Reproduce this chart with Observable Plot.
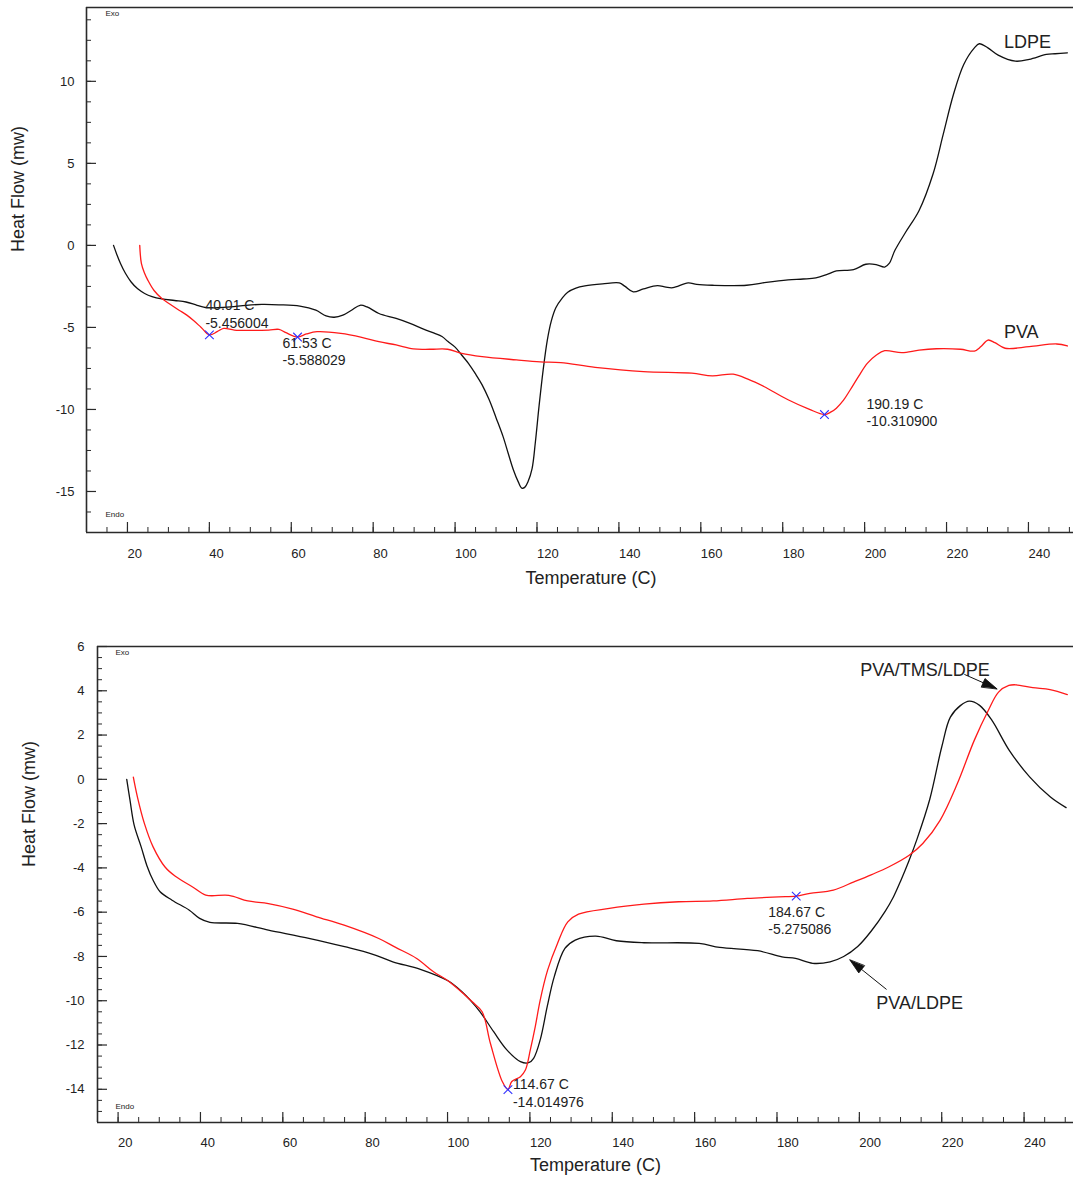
<!DOCTYPE html>
<html>
<head>
<meta charset="utf-8">
<script src="https://cdn.jsdelivr.net/npm/d3@7"></script>
<script src="https://cdn.jsdelivr.net/npm/@observablehq/plot@0.6"></script>
<style>
html, body { margin: 0; padding: 0; background: #fff; }
#top, #bottom { width: 1073px; }
svg { display: block; }
</style>
</head>
<body>
<div id="top"></div>
<div id="bottom"></div>
<script>
// ---------- Top panel data ----------
const ldpeTemp = [16.6,17.4,18.3,19.5,20.9,22.5,24.2,26,28.4,31.5,34.3,37,39.3,42,45.2,49,52.8,57,62.1,66,68.5,70.5,72.6,74.7,76.8,78.5,81.4,85.6,89,92.3,94.9,96.8,98.2,100,101.6,103.3,104.9,106.6,108.3,110,111.7,113,114.2,115.4,116.3,117,117.8,118.8,119.6,120.5,121.5,122.5,123.5,124.6,126.2,127.5,129.5,131.7,136,140.1,141.5,143.5,146,149.4,151.5,153.2,156.9,159,162.8,171.2,176,181.3,185,188.1,191,193.1,197.3,200.3,202.8,204.9,206,207.4,210,213.3,216.7,219.2,221.7,224.2,226.8,228,230.1,232.6,236.8,240.2,244.4,246.5,249.5];
const ldpeHeat = [0,-0.55,-1.1,-1.7,-2.23,-2.65,-2.93,-3.12,-3.26,-3.36,-3.45,-3.65,-3.8,-3.8,-3.75,-3.65,-3.6,-3.62,-3.7,-3.95,-4.3,-4.38,-4.25,-3.95,-3.65,-3.75,-4.15,-4.45,-4.75,-5.1,-5.35,-5.55,-5.85,-6.2,-6.68,-7.2,-7.8,-8.5,-9.4,-10.5,-11.64,-12.7,-13.66,-14.4,-14.8,-14.75,-14.4,-13.6,-12,-9.8,-7.6,-5.8,-4.6,-3.8,-3.2,-2.85,-2.6,-2.47,-2.35,-2.29,-2.5,-2.83,-2.65,-2.45,-2.55,-2.58,-2.29,-2.38,-2.43,-2.43,-2.25,-2.1,-2.05,-1.98,-1.75,-1.56,-1.48,-1.15,-1.17,-1.32,-1.1,-0.3,0.8,2.13,4.35,6.78,9.21,11.03,12.04,12.29,12.04,11.6,11.23,11.34,11.64,11.68,11.74];

const pvaTemp = [23,23.4,24.1,25,26.5,28.4,30.5,32.6,34.5,36,38,40.01,41.9,43.5,46.1,50,54.5,57,58.7,61.53,63.7,66.3,72.1,77.2,81.4,85.6,89.8,94,98.2,101.6,106.6,115,120.8,125.8,134.2,146,157.8,162.8,167.9,171.5,175.4,181.3,186.4,190.19,191.8,193.1,194.8,196.5,198.6,200.7,202.8,204.9,209.1,213.3,217.5,223.4,226.8,228.4,230.1,231.8,234.3,240.2,246.9,249.5];
const pvaHeat = [0,-1.1,-1.65,-2.13,-2.75,-3.24,-3.6,-3.95,-4.25,-4.55,-5.0,-5.456,-5.26,-5.06,-5.16,-5.18,-5.16,-5.12,-5.32,-5.588,-5.4,-5.26,-5.36,-5.6,-5.87,-6.07,-6.31,-6.33,-6.33,-6.58,-6.78,-6.98,-7.1,-7.15,-7.43,-7.69,-7.79,-7.95,-7.85,-8.15,-8.6,-9.41,-9.98,-10.31,-10.15,-9.92,-9.45,-8.8,-7.95,-7.18,-6.7,-6.42,-6.54,-6.38,-6.3,-6.33,-6.44,-6.17,-5.77,-5.93,-6.27,-6.17,-6.01,-6.13];

const topMarkTemp = [40.01, 61.53, 190.19];
const topMarkHeat = [-5.456004, -5.588029, -10.3109];
const topSeriesNames = ["LDPE", "PVA"];
const topSeriesLabelTemp = [234.0, 234.0];
const topSeriesLabelHeat = [12.04, -5.65];

// ---------- Bottom panel data ----------
const blendTemp = [22.1,22.9,23.9,25.6,27,28.5,30.2,33.1,37.3,39.8,42.3,49,56.5,66.6,75,81.7,86.7,93.4,100.1,103.5,105.5,107.9,111.2,114.4,117.7,119.7,120.9,122.5,124.2,125.9,128.5,131,136,141,147.7,161.1,166.1,175.3,181.2,184.5,188.7,192.9,196.2,199.6,202.9,206.3,208.3,210,212,214,217.1,220,222.1,224.6,226.7,229.2,232.2,236.4,241.4,246.4,250.2];
const blendHeat = [0,-0.95,-2.07,-3.05,-3.9,-4.56,-5.08,-5.46,-5.91,-6.28,-6.46,-6.51,-6.81,-7.19,-7.56,-7.89,-8.24,-8.58,-9.1,-9.59,-9.97,-10.5,-11.4,-12.22,-12.75,-12.8,-12.6,-11.77,-10.27,-8.92,-7.64,-7.26,-7.08,-7.29,-7.38,-7.41,-7.59,-7.74,-8.02,-8.09,-8.31,-8.24,-8.0,-7.55,-6.85,-5.95,-5.3,-4.6,-3.7,-2.7,-0.9,1.46,2.81,3.34,3.53,3.34,2.66,1.31,0.1,-0.8,-1.28];

const tmsTemp = [23.7,24.7,26.4,28.5,31.4,33.9,38.1,41.3,46.9,51.5,56.5,62.4,68.2,74.9,83.3,87.4,92.5,96.6,100.1,104.2,106,108.4,110.4,113.3,114.67,115.6,117.7,118.9,120.1,121.3,122.5,124.3,126.7,129.2,131.8,139.3,147.7,156.1,164.5,172.8,180.4,184.67,188,193.7,198.7,203,207.1,212.1,215.4,219.6,223.8,227.9,231.3,233.8,236.3,238,242.1,246.3,250.5];
const tmsHeat = [0.1,-0.8,-2.0,-3.05,-3.96,-4.38,-4.86,-5.23,-5.24,-5.49,-5.61,-5.86,-6.21,-6.59,-7.19,-7.59,-8.09,-8.69,-9.1,-9.74,-10.05,-10.5,-11.92,-13.65,-14.01,-13.65,-13.43,-13.13,-12.22,-11.17,-9.97,-8.62,-7.41,-6.44,-6.09,-5.83,-5.64,-5.53,-5.49,-5.38,-5.31,-5.275,-5.15,-5.0,-4.63,-4.3,-3.96,-3.43,-2.9,-1.85,-0.19,1.76,3.11,3.94,4.24,4.27,4.14,4.05,3.83];

const botMarkTemp = [114.67, 184.67];
const botMarkHeat = [-14.014976, -5.275086];
const botSeriesNames = ["PVA/TMS/LDPE", "PVA/LDPE"];
const botSeriesLabelTemp = [200.2, 204.1];
const botSeriesLabelHeat = [4.69, -10.37];
const botArrowFromTemp = [225.5, 206.6];
const botArrowFromHeat = [4.74, -9.49];
const botArrowToTemp = [233.4, 197.7];
const botArrowToHeat = [4.09, -8.16];

// ---------- Axes ----------
const topXDomain = [10, 251];
const topYDomain = [-17.5, 14.5];
const topXTicks = [20,40,60,80,100,120,140,160,180,200,220,240];
const topYTicks = [-15,-10,-5,0,5,10];
const botXDomain = [15, 252];
const botYDomain = [-15.5, 6];
const botXTicks = [20,40,60,80,100,120,140,160,180,200,220,240];
const botYTicks = [-14,-12,-10,-8,-6,-4,-2,0,2,4,6];

const xTitle = "Temperature (C)";
const yTitle = "Heat Flow (mw)";

// ---------- Rendering ----------
const FONT = "'Liberation Sans', Arial, Helvetica, sans-serif";
const AXIS = "#2a2a2a";
const BLACK = "#111";
const RED = "#ff1a1a";
const W = 1073;

const toRows = (ts, vs) => ts.map((t, i) => ({t, v: vs[i]}));

const headShape = {
  draw(ctx, l) {
    ctx.moveTo(0, -l);
    ctx.lineTo(-4.5, 0);
    ctx.lineTo(4.5, 0);
    ctx.closePath();
  }
};

function panel(cfg) {
  const {height, m, xDomain, yDomain, xTicks, yTicks, xMinor, yMinor, series, markers, labels, arrows, exoDy, endoDy, tagDx, xTitleDx, xTitleDy, yTitleDy, markerOffsets} = cfg;
  const plotW = W - m.left - m.right;
  const plotH = height - m.top - m.bottom;
  const sx = plotW / (xDomain[1] - xDomain[0]);
  const sy = plotH / (yDomain[1] - yDomain[0]);
  const marks = [
    Plot.ruleY([yDomain[0]], {stroke: AXIS, strokeWidth: 1.6}),
    Plot.ruleY([yDomain[1]], {stroke: AXIS, strokeWidth: 1.6}),
    Plot.ruleX([xDomain[0]], {stroke: AXIS, strokeWidth: 1.6}),
    Plot.ruleX(xTicks, {x: d => d, insetTop: plotH - 10, stroke: AXIS, strokeWidth: 1.2}),
    Plot.ruleX(xMinor, {x: d => d, insetTop: plotH - 5, stroke: AXIS, strokeWidth: 1}),
    Plot.ruleY(yTicks, {y: d => d, insetRight: plotW - 10, stroke: AXIS, strokeWidth: 1.2}),
    Plot.ruleY(yMinor, {y: d => d, insetRight: plotW - 5, stroke: AXIS, strokeWidth: 1}),
    Plot.axisX(xTicks, {tickSize: 0, tickPadding: cfg.xPad, textAnchor: "start", fontSize: 13, tickFormat: d => String(d), label: null, fill: "#222"}),
    Plot.axisY(yTicks, {tickSize: 0, tickPadding: cfg.yPad, fontSize: 13, tickFormat: d => String(d), label: null, fill: "#222"}),
    Plot.text([xTitle], {frameAnchor: "bottom", dx: xTitleDx, dy: xTitleDy, fontSize: 18, lineAnchor: "middle", fill: "#222"}),
    Plot.text([yTitle], {frameAnchor: "left", rotate: -90, dx: -68, dy: yTitleDy, fontSize: 18, lineAnchor: "middle", fill: "#222"}),
    Plot.text(["Exo"], {frameAnchor: "top-left", dx: tagDx, dy: exoDy, fontSize: 8, textAnchor: "start", lineAnchor: "middle", fill: "#222"}),
    Plot.text(["Endo"], {frameAnchor: "bottom-left", dx: tagDx, dy: endoDy, fontSize: 8, textAnchor: "start", lineAnchor: "middle", fill: "#222"})
  ];
  for (const s of series) {
    marks.push(Plot.line(s.rows, {x: "t", y: "v", stroke: s.color, strokeWidth: 1.3, curve: "catmull-rom"}));
  }
  marks.push(Plot.dot(markers, {x: "t", y: "v", symbol: "times", r: 4, stroke: "#3030ff", strokeWidth: 1.1}));
  markers.forEach((mk, i) => {
    marks.push(Plot.text([mk], {
      x: "t", y: "v",
      text: d => `${d.t.toFixed(2)} C\n${d.v.toFixed(6)}`,
      dx: markerOffsets[i][0], dy: markerOffsets[i][1],
      textAnchor: "start", lineAnchor: "top", lineHeight: 1.25, fontSize: 14, fill: "#222"
    }));
  });
  marks.push(Plot.text(labels, {x: "t", y: "v", text: "name", textAnchor: "start", lineAnchor: "bottom", fontSize: 18, fill: "#222"}));
  if (arrows && arrows.length) {
    const arr = arrows.map(a => {
      const dxp = (a.x2 - a.x1) * sx;
      const dyp = -(a.y2 - a.y1) * sy;
      return {...a, angle: Math.atan2(dxp, -dyp) * 180 / Math.PI};
    });
    marks.push(Plot.link(arr, {x1: "x1", y1: "y1", x2: "x2", y2: "y2", stroke: BLACK, strokeWidth: 1}));
    marks.push(Plot.vector(arr, {x: "x2", y: "y2", rotate: "angle", length: 15, anchor: "end", shape: headShape, fill: BLACK, stroke: BLACK, strokeWidth: 0.8}));
  }
  return Plot.plot({
    width: W,
    height,
    marginTop: m.top, marginBottom: m.bottom, marginLeft: m.left, marginRight: m.right,
    style: {fontFamily: FONT, fontSize: "13px", background: "#fff", color: "#222", overflow: "visible"},
    x: {domain: xDomain},
    y: {domain: yDomain},
    marks
  });
}

const topChart = panel({
  height: 590,
  m: {top: 7, bottom: 58, left: 86, right: 0},
  xDomain: topXDomain, yDomain: topYDomain,
  xTicks: topXTicks, yTicks: topYTicks,
  xMinor: d3.range(15, 251, 5),
  yMinor: d3.range(-16.25, 14.5, 1.25),
  xPad: 16, yPad: 12,
  series: [
    {rows: toRows(ldpeTemp, ldpeHeat), color: BLACK},
    {rows: toRows(pvaTemp, pvaHeat), color: RED}
  ],
  markers: toRows(topMarkTemp, topMarkHeat),
  markerOffsets: [[-4, -37], [-15, -2], [42, -18]],
  labels: topSeriesNames.map((name, i) => ({name, t: topSeriesLabelTemp[i], v: topSeriesLabelHeat[i]})),
  arrows: [],
  tagDx: 19, exoDy: 6, endoDy: -18,
  xTitleDx: 11, xTitleDy: 46, yTitleDy: -18
});

const botChart = panel({
  height: 587,
  m: {top: 56, bottom: 55, left: 97, right: 0},
  xDomain: botXDomain, yDomain: botYDomain,
  xTicks: botXTicks, yTicks: botYTicks,
  xMinor: d3.range(20, 252, 5),
  yMinor: d3.range(-15, 6, 0.5),
  xPad: 15, yPad: 13,
  series: [
    {rows: toRows(blendTemp, blendHeat), color: BLACK},
    {rows: toRows(tmsTemp, tmsHeat), color: RED}
  ],
  markers: toRows(botMarkTemp, botMarkHeat),
  markerOffsets: [[5, -13], [-28, 8]],
  labels: botSeriesNames.map((name, i) => ({name, t: botSeriesLabelTemp[i], v: botSeriesLabelHeat[i]})),
  arrows: botArrowFromTemp.map((x1, i) => ({x1, y1: botArrowFromHeat[i], x2: botArrowToTemp[i], y2: botArrowToHeat[i]})),
  tagDx: 18, exoDy: 6, endoDy: -16,
  xTitleDx: 10, xTitleDy: 43, yTitleDy: -17.5
});

document.getElementById("top").appendChild(topChart);
document.getElementById("bottom").appendChild(botChart);
</script>
</body>
</html>
